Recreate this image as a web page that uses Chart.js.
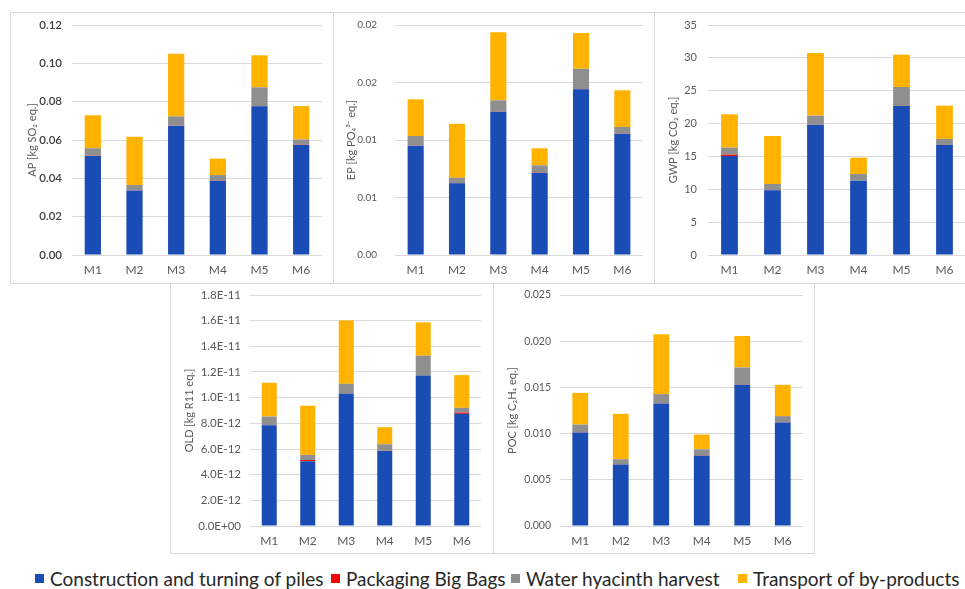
<!DOCTYPE html>
<html>
<head>
<meta charset="utf-8">
<script src="https://cdn.jsdelivr.net/npm/chart.js@4.4.1/dist/chart.umd.min.js"></script>
<style>
  html, body { margin: 0; padding: 0; background: #fff; }
  body { width: 965px; height: 589px; position: relative; overflow: hidden; font-family: Lato, "Open Sans", sans-serif; }
  .panel { position: absolute; }
  .panel canvas { position: absolute; left: 0; top: 0; }
  .frame { position: absolute; left: 0; top: 0; right: 0; bottom: 0; border: 1px solid #d9d9d9; box-sizing: border-box; pointer-events: none; }
  .legend-item { position: absolute; top: 567px; height: 22px; display: flex; align-items: center; font-size: 19px; color: #262626; white-space: nowrap; }
  .swatch { width: 9px; height: 9px; margin-right: 6px; flex: none; }
</style>
</head>
<body>
<script>
// Methods compared on the x axis of every panel
const methods = ['M1', 'M2', 'M3', 'M4', 'M5', 'M6'];

// Process stages stacked in each bar
const stageNames = ['Construction and turning of piles', 'Packaging Big Bags', 'Water hyacinth harvest', 'Transport of by-products'];
const stageColors = ['#1a4cb5', '#ff0000', '#8f8f8f', '#ffb300'];

// Acidification potential [kg SO2 eq.]
const apConstruction = [0.0517, 0.0337, 0.0675, 0.0386, 0.0776, 0.0574];
const apPackaging    = [0.0001, 0.0001, 0.0001, 0.0001, 0.0001, 0.0001];
const apHarvest      = [0.0039, 0.0027, 0.0047, 0.0030, 0.0098, 0.0028];
const apTransport    = [0.0172, 0.0252, 0.0327, 0.0086, 0.0167, 0.0174];
const apTickValues = [0, 0.02, 0.04, 0.06, 0.08, 0.10, 0.12];
const apTickLabels = ['0.00', '0.02', '0.04', '0.06', '0.08', '0.10', '0.12'];

// Eutrophication potential [kg PO4 3- eq.]
const epConstruction = [0.00951, 0.00623, 0.01246, 0.00713, 0.01441, 0.01055];
const epPackaging    = [0.00002, 0.00002, 0.00002, 0.00002, 0.00002, 0.00002];
const epHarvest      = [0.00082, 0.00047, 0.00097, 0.00065, 0.00177, 0.00056];
const epTransport    = [0.00319, 0.00470, 0.00591, 0.00148, 0.00310, 0.00319];
const epTickValues = [0, 0.005, 0.01, 0.015, 0.02];
const epTickLabels = ['0.00', '0.01', '0.01', '0.02', '0.02'];

// Global warming potential [kg CO2 eq.]
const gwpConstruction = [15.07, 9.84, 19.79, 11.31, 22.68, 16.74];
const gwpPackaging    = [0.20, 0.01, 0.01, 0.01, 0.01, 0.01];
const gwpHarvest      = [1.07, 0.96, 1.41, 1.01, 2.88, 0.91];
const gwpTransport    = [5.07, 7.30, 9.53, 2.48, 4.92, 5.07];
const gwpTickValues = [0, 5, 10, 15, 20, 25, 30, 35];
const gwpTickLabels = ['0', '5', '10', '15', '20', '25', '30', '35'];

// Ozone layer depletion [kg R11 eq.]
const oldConstruction = [7.86e-12, 5.05e-12, 10.30e-12, 5.85e-12, 11.73e-12, 8.74e-12];
const oldPackaging    = [0.01e-12, 0.09e-12, 0.01e-12, 0.01e-12, 0.01e-12, 0.09e-12];
const oldHarvest      = [0.66e-12, 0.40e-12, 0.77e-12, 0.51e-12, 1.53e-12, 0.38e-12];
const oldTransport    = [2.63e-12, 3.83e-12, 4.94e-12, 1.33e-12, 2.60e-12, 2.55e-12];
const oldTickValues = [0, 2e-12, 4e-12, 6e-12, 8e-12, 10e-12, 12e-12, 14e-12, 16e-12, 18e-12];
const oldTickLabels = ['0.0E+00', '2.0E-12', '4.0E-12', '6.0E-12', '8.0E-12', '1.0E-11', '1.2E-11', '1.4E-11', '1.6E-11', '1.8E-11'];

// Photochemical ozone creation [kg C2H4 eq.]
const pocConstruction = [0.01012, 0.00665, 0.01326, 0.00759, 0.01528, 0.01120];
const pocPackaging    = [0.00002, 0.00002, 0.00002, 0.00002, 0.00002, 0.00002];
const pocHarvest      = [0.00084, 0.00056, 0.00099, 0.00070, 0.00186, 0.00067];
const pocTransport    = [0.00343, 0.00491, 0.00647, 0.00159, 0.00340, 0.00339];
const pocTickValues = [0, 0.005, 0.01, 0.015, 0.02, 0.025];
const pocTickLabels = ['0.000', '0.005', '0.010', '0.015', '0.020', '0.025'];

const FONT = 'Lato, "Open Sans", sans-serif';
const TICK_COLOR = '#595959';

function buildPanel(p) {
  const wrap = document.createElement('div');
  wrap.className = 'panel';
  wrap.style.left = p.box[0] + 'px';
  wrap.style.top = p.box[1] + 'px';
  wrap.style.width = p.box[2] + 'px';
  wrap.style.height = p.box[3] + 'px';
  const canvas = document.createElement('canvas');
  canvas.width = p.box[2];
  canvas.height = p.box[3];
  wrap.appendChild(canvas);
  const frame = document.createElement('div');
  frame.className = 'frame';
  wrap.appendChild(frame);
  document.body.appendChild(wrap);

  new Chart(canvas.getContext('2d'), {
    type: 'bar',
    data: {
      labels: methods,
      datasets: p.series.map((vals, i) => ({
        label: stageNames[i],
        data: vals,
        backgroundColor: stageColors[i],
        borderWidth: 0,
        categoryPercentage: 1,
        barPercentage: 0.39
      }))
    },
    options: {
      responsive: false,
      animation: false,
      devicePixelRatio: 1,
      layout: { padding: { left: 0, right: p.padRight, top: p.padTop, bottom: 0 } },
      plugins: { legend: { display: false }, tooltip: { enabled: false } },
      scales: {
        x: {
          stacked: true,
          grid: { display: false, drawTicks: false },
          border: { display: false },
          ticks: { font: { family: FONT, size: 12 }, color: TICK_COLOR, padding: 8 },
          afterFit: s => { s.height = p.xHeight; s.paddingLeft = 0; s.paddingRight = 0; }
        },
        y: {
          stacked: true,
          min: 0,
          max: p.tickValues[p.tickValues.length - 1],
          grid: { color: '#d9d9d9', lineWidth: 1, drawTicks: false },
          border: { display: false },
          afterBuildTicks: ax => { ax.ticks = p.tickValues.map(v => ({ value: v })); },
          ticks: {
            callback: (v, i) => p.tickLabels[i],
            padding: p.tickPad,
            font: { family: FONT, size: p.yFont, weight: p.yWeight || 'normal' },
            color: p.yColor || TICK_COLOR
          },
          title: {
            display: true,
            text: p.title,
            font: { family: FONT, size: 11 },
            color: TICK_COLOR,
            padding: { top: p.titlePad, bottom: 0 }
          },
          afterFit: s => { s.width = p.yWidth; s.paddingTop = 0; s.paddingBottom = 0; }
        }
      }
    }
  });
}

const panels = [
  { box: [10, 12, 324, 272], yWidth: 62, padRight: 12, padTop: 13, xHeight: 29, tickPad: 10, titlePad: 16,
    yFont: 11.5, yWeight: '600', yColor: '#404040',
    title: 'AP [kg SO\u2082 eq.]', tickValues: apTickValues, tickLabels: apTickLabels,
    series: [apConstruction, apPackaging, apHarvest, apTransport] },
  { box: [333, 12, 322, 272], yWidth: 62, padRight: 12, padTop: 13, xHeight: 29, tickPad: 18, titlePad: 12,
    yFont: 10,
    title: 'EP [kg PO\u2084\u00B3\u207B eq.]', tickValues: epTickValues, tickLabels: epTickLabels,
    series: [epConstruction, epPackaging, epHarvest, epTransport] },
  { box: [654, 12, 320, 272], yWidth: 54, padRight: 8, padTop: 13, xHeight: 29, tickPad: 11, titlePad: 13,
    yFont: 11,
    title: 'GWP [kg CO\u2082 eq.]', tickValues: gwpTickValues, tickLabels: gwpTickLabels,
    series: [gwpConstruction, gwpPackaging, gwpHarvest, gwpTransport] },
  { box: [170, 283, 324, 271], yWidth: 80, padRight: 13, padTop: 12, xHeight: 28, tickPad: 9, titlePad: 13,
    yFont: 11.5,
    title: 'OLD [kg R11 eq.]', tickValues: oldTickValues, tickLabels: oldTickLabels,
    series: [oldConstruction, oldPackaging, oldHarvest, oldTransport] },
  { box: [493, 283, 322, 271], yWidth: 67, padRight: 12, padTop: 12, xHeight: 28, tickPad: 9, titlePad: 13,
    yFont: 10.5,
    title: 'POC [kg C\u2082H\u2084 eq.]', tickValues: pocTickValues, tickLabels: pocTickLabels,
    series: [pocConstruction, pocPackaging, pocHarvest, pocTransport] }
];

panels.forEach(buildPanel);

// Shared legend below the panels
const legendX = [35, 331, 511, 738];
stageNames.forEach((name, i) => {
  const item = document.createElement('div');
  item.className = 'legend-item';
  item.style.left = legendX[i] + 'px';
  const sw = document.createElement('span');
  sw.className = 'swatch';
  sw.style.background = stageColors[i];
  const tx = document.createElement('span');
  tx.textContent = name;
  item.appendChild(sw);
  item.appendChild(tx);
  document.body.appendChild(item);
});
</script>
</body>
</html>
